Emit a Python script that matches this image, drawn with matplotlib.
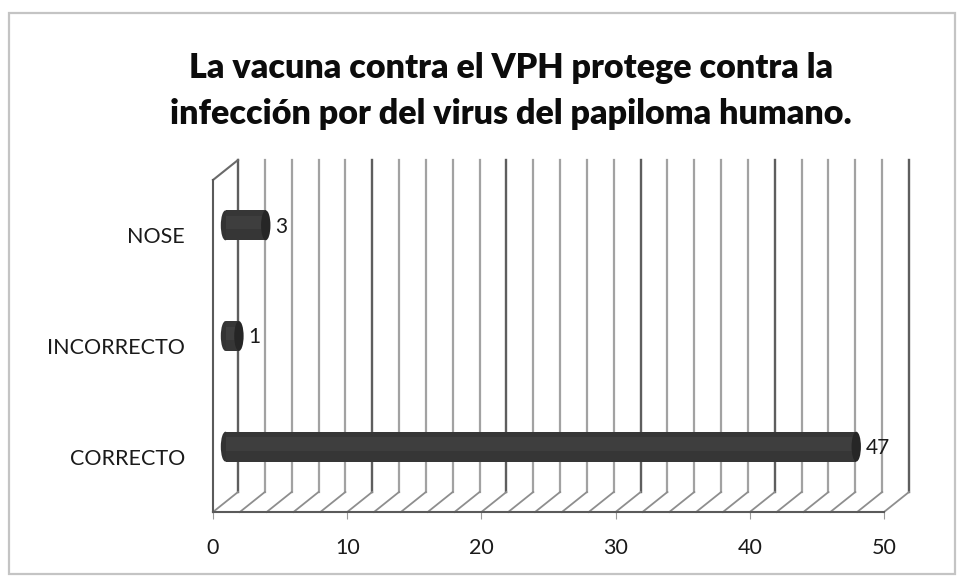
import matplotlib
matplotlib.use("Agg")
import matplotlib.pyplot as plt
from matplotlib.transforms import ScaledTranslation, IdentityTransform
from matplotlib.patches import Ellipse, Rectangle
import numpy as np

# ---- data ----
categories = ["CORRECTO", "INCORRECTO", "NOSE"]
values = [47, 1, 3]
xtick_values = [0, 10, 20, 30, 40, 50]
title_text = "La vacuna contra el VPH protege contra la\ninfección por del virus del papiloma humano."

W, H, DPI = 959, 577, 100
plt.rcParams["font.family"] = ["Lato", "DejaVu Sans"]

fig = plt.figure(figsize=(W / DPI, H / DPI), dpi=DPI)
fig.patch.set_facecolor("white")

# outer chart border
fig.patches.append(Rectangle((9 / W, 1 - 574 / H), (955 - 9) / W, (574 - 13) / H,
                             transform=fig.transFigure, fill=False,
                             edgecolor="#c4c4c4", lw=1.6))

ax = fig.add_axes([213 / W, 1 - 512 / H, (884 - 213) / W, (512 - 180) / H])
ax.patch.set_alpha(0)

DX, DY = 25, 20  # depth offset in pixels


def depth(frac):
    return ax.transData + ScaledTranslation(frac * DX / DPI, frac * DY / DPI,
                                            fig.dpi_scale_trans)


ypos = np.arange(len(categories))
ax.set_xlim(0, 50)
ax.set_ylim(-0.5, len(categories) - 0.5)
y0, y1 = ax.get_ylim()
back = depth(1.0)
mid = depth(0.5)

# back wall gridlines and floor diagonals
grid_x = np.arange(0, 51, 2)
for gx in grid_x:
    major = gx % 10 == 0
    col = "#5e5e5e" if major else "#a2a2a2"
    lw = 1.7 if major else 1.6
    ax.plot([gx, gx], [y0, y1], transform=back, color=col, lw=lw,
            zorder=1, clip_on=False)
    pf = ax.transData.transform((gx, y0))
    pb = back.transform((gx, y0))
    ax.plot([pf[0], pb[0]], [pf[1], pb[1]], transform=IdentityTransform(),
            color="#8e8e8e", lw=1.3, zorder=1, clip_on=False)

# left wall top edge
pf = ax.transData.transform((0, y1))
pb = back.transform((0, y1))
ax.plot([pf[0], pb[0]], [pf[1], pb[1]], transform=IdentityTransform(),
        color="#6a6a6a", lw=1.5, zorder=1, clip_on=False)

# cylinder bars
BH = 0.27
ax.barh(ypos, values, height=BH, color="#363636", edgecolor="none",
        transform=mid, zorder=3, clip_on=False)
ax.barh(ypos + 0.025, values, height=BH * 0.45, color="#3e3e3e", edgecolor="none",
        transform=mid, zorder=3.5, clip_on=False)
for y, v in zip(ypos, values):
    ax.add_patch(Ellipse((0, y), 0.7, BH, facecolor="#333333", edgecolor="none",
                         transform=mid, zorder=2, clip_on=False))
    ax.add_patch(Ellipse((v, y), 0.7, BH, facecolor="#262626", edgecolor="none",
                         transform=mid, zorder=4, clip_on=False))
    ax.annotate(str(v), xy=(v, y), xycoords=mid, xytext=(7, -1),
                textcoords="offset points", va="center", ha="left",
                fontsize=15, color="#1a1a1a")

# axes styling
for s in ["top", "right"]:
    ax.spines[s].set_visible(False)
for s in ["left", "bottom"]:
    ax.spines[s].set_color("#5a5a5a")
    ax.spines[s].set_linewidth(1.5)

ax.set_xticks(xtick_values)
ax.set_xticklabels([str(t) for t in xtick_values])
ax.set_yticks(ypos)
ax.set_yticklabels(categories)
ax.tick_params(axis="x", length=5, color="#9a9a9a", pad=14, labelsize=15.5,
               labelcolor="#1a1a1a")
ax.tick_params(axis="y", length=0, pad=20, labelsize=15.5, labelcolor="#1a1a1a")

fig.text(511 / W, 1 - 91 / H, title_text, ha="center", va="center",
         fontsize=24.5, fontweight="heavy", color="#0c0c0c", linespacing=1.5)

fig.savefig("out.png", dpi=DPI, facecolor="white")
